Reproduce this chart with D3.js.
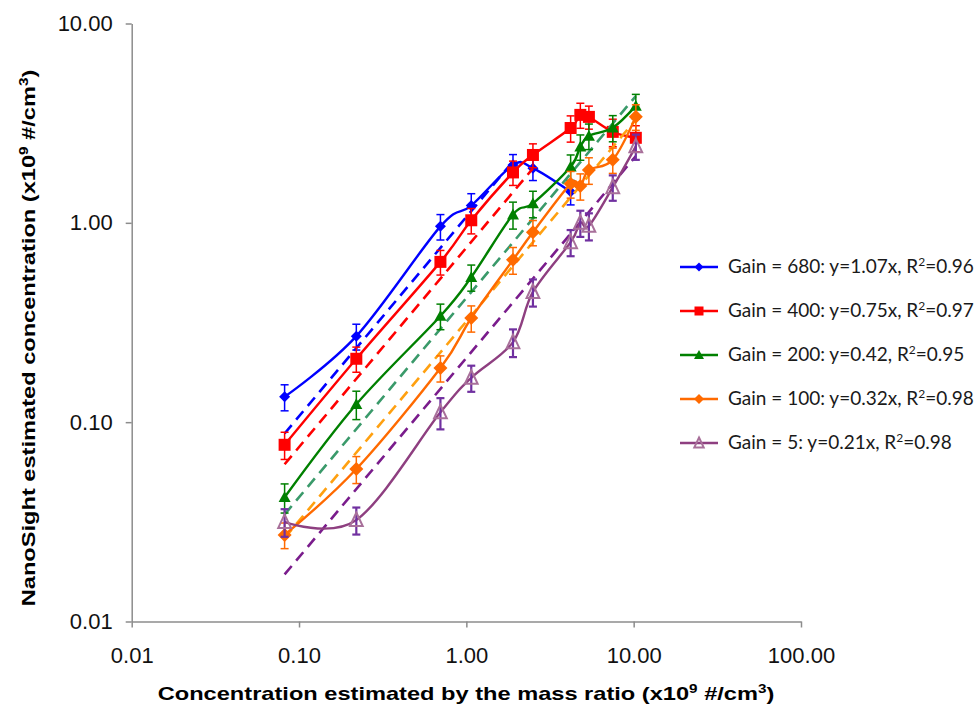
<!DOCTYPE html>
<html><head><meta charset="utf-8">
<script src="https://cdn.jsdelivr.net/npm/d3@7/dist/d3.min.js"></script>
<style>
html,body{margin:0;padding:0;background:#fff;}
svg{display:block;}
</style></head>
<body>
<svg id="chart" width="974" height="707"></svg>
<script>
// ---------- data ----------
const xValues = [0.082, 0.22, 0.70, 1.07, 1.9, 2.5, 4.2, 4.8, 5.4, 7.5, 10.3];
const seriesNames = ["Gain = 680", "Gain = 400", "Gain = 200", "Gain = 100", "Gain = 5"];
const fitLabels = ["y=1.07x, R\u00b2=0.96", "y=0.75x, R\u00b2=0.97", "y=0.42, R\u00b2=0.95", "y=0.32x, R\u00b2=0.98", "y=0.21x, R\u00b2=0.98"];
const gain680 = [0.134, 0.27, 0.96, 1.22, 1.95, 1.88, 1.43];
const gain400 = [0.077, 0.208, 0.637, 1.03, 1.79, 2.19, 2.99, 3.48, 3.40, 2.86, 2.67];
const gain200 = [0.042, 0.123, 0.341, 0.534, 1.10, 1.25, 1.91, 2.41, 2.73, 3.0, 3.86];
const gain100 = [0.0272, 0.0582, 0.187, 0.333, 0.652, 0.897, 1.57, 1.53, 1.84, 2.07, 3.41];
const gain5   = [0.0316, 0.0323, 0.112, 0.167, 0.252, 0.45, 0.80, 1.0, 0.966, 1.51, 2.42];
const err680 = [0.02, 0.04, 0.14, 0.18, 0.25, 0.25, 0.2];
const err400 = [0.012, 0.03, 0.09, 0.15, 0.25, 0.3, 0.45, 0.5, 0.45, 0.45, 0.4];
const err200 = [0.007, 0.02, 0.05, 0.08, 0.17, 0.19, 0.28, 0.35, 0.4, 0.45, 0.55];
const err100 = [0.004, 0.009, 0.028, 0.05, 0.1, 0.13, 0.24, 0.23, 0.28, 0.3, 0.5];
const err5   = [0.005, 0.005, 0.02, 0.025, 0.04, 0.07, 0.12, 0.15, 0.15, 0.22, 0.35];
const fitSlopes = [1.07, 0.75, 0.42, 0.32, 0.21];
const fitXStart = [0.082, 0.082, 0.082, 0.082, 0.082];
const fitXEnd = [1.9, 2.5, 10.3, 10.3, 10.3];
const xTicks = [0.01, 0.1, 1, 10, 100];
const yTicks = [0.01, 0.1, 1, 10];

// ---------- styles ----------
const lineColors = ["#0000ff", "#ff0000", "#008000", "#ff6a00", "#8e3f80"];
const dashColors = ["#0000ff", "#ff0000", "#3a9a6a", "#ffa010", "#7a1c8c"];
const errColors  = ["#0000ff", "#ff0000", "#008000", "#ff6a00", "#7030a0"];
const markerTypes = ["diamond", "square", "triangle", "diamond", "triangleOpen"];
const markerSizes = [11, 12, 12, 14, 15];

const yData = [gain680, gain400, gain200, gain100, gain5];
const eData = [err680, err400, err200, err100, err5];

const svg = d3.select("#chart");
const x = d3.scaleLog().domain([0.01, 100]).range([131.7, 801]);
const y = d3.scaleLog().domain([0.01, 10]).range([621.5, 23.5]);
const fmt = d3.format(".2f");
const axisColor = "#8c8c8c";

// axes
const gx = svg.append("g").attr("transform", `translate(0,${y(0.01)})`)
  .call(d3.axisBottom(x).tickValues(xTicks).tickFormat(fmt).tickSize(6).tickSizeOuter(0).tickPadding(20));
const gy = svg.append("g").attr("transform", `translate(${x(0.01)},0)`)
  .call(d3.axisLeft(y).tickValues(yTicks).tickFormat(fmt).tickSize(6).tickSizeOuter(0).tickPadding(13));
[gx, gy].forEach(g => {
  g.select(".domain").attr("stroke", axisColor).attr("stroke-width", 1.5);
  g.selectAll(".tick line").attr("stroke", axisColor).attr("stroke-width", 1.5);
  g.selectAll(".tick text").attr("fill", "#111").style("font-family", "'Liberation Sans', Arial, sans-serif").style("font-size", "22px");
});

// marker drawing
function drawMarker(g, type, cx, cy, s, color) {
  const h = s / 2;
  if (type === "diamond") {
    g.append("path").attr("d", `M${cx},${cy - h}L${cx + h},${cy}L${cx},${cy + h}L${cx - h},${cy}Z`).attr("fill", color);
  } else if (type === "square") {
    g.append("rect").attr("x", cx - h).attr("y", cy - h).attr("width", s).attr("height", s).attr("fill", color);
  } else if (type === "triangle") {
    g.append("path").attr("d", `M${cx},${cy - h}L${cx + h},${cy + h * 0.8}L${cx - h},${cy + h * 0.8}Z`).attr("fill", color);
  } else {
    g.append("path").attr("d", `M${cx},${cy - h}L${cx + h * 0.85},${cy + h * 0.8}L${cx - h * 0.85},${cy + h * 0.8}Z`)
      .attr("fill", "none").attr("stroke", "#a8709a").attr("stroke-width", 2);
  }
}

const line = d3.line().x(d => x(d[0])).y(d => y(d[1])).curve(d3.curveCardinal.tension(0));
const plot = svg.append("g");

yData.forEach((vals, i) => {
  const g = plot.append("g");
  const pts = vals.map((v, j) => [xValues[j], v, eData[i][j]]);
  // trendline
  const fx = [fitXStart[i], fitXEnd[i]];
  g.append("line")
    .attr("x1", x(fx[0])).attr("y1", y(fitSlopes[i] * fx[0]))
    .attr("x2", x(fx[1])).attr("y2", y(fitSlopes[i] * fx[1]))
    .attr("stroke", dashColors[i]).attr("stroke-width", 2.6)
    .attr("stroke-dasharray", "11,7");
  // smoothed line
  g.append("path").datum(pts).attr("d", line)
    .attr("fill", "none").attr("stroke", lineColors[i]).attr("stroke-width", 2.4);
  // error bars
  pts.forEach(p => {
    const xc = x(p[0]), y1 = y(p[1] + p[2]), y2 = y(p[1] - p[2]);
    const eg = g.append("g").attr("stroke", errColors[i]).attr("stroke-width", i === 4 ? 2.2 : 1.5);
    eg.append("line").attr("x1", xc).attr("x2", xc).attr("y1", y1).attr("y2", y2);
    eg.append("line").attr("x1", xc - 4).attr("x2", xc + 4).attr("y1", y1).attr("y2", y1);
    eg.append("line").attr("x1", xc - 4).attr("x2", xc + 4).attr("y1", y2).attr("y2", y2);
  });
  // markers
  pts.forEach(p => drawMarker(g, markerTypes[i], x(p[0]), y(p[1]), markerSizes[i], lineColors[i]));
});

// legend
const legend = svg.append("g");
seriesNames.forEach((name, i) => {
  const ly = 267 + i * 44;
  const lg = legend.append("g");
  lg.append("line").attr("x1", 680).attr("x2", 718).attr("y1", ly).attr("y2", ly)
    .attr("stroke", lineColors[i]).attr("stroke-width", 2.4);
  drawMarker(lg, markerTypes[i], 699, ly, [9, 9, 10, 10, 11][i], lineColors[i]);
  const t = lg.append("text").attr("x", 728).attr("y", ly + 6)
    .style("font-family", "Lato, 'Open Sans', sans-serif").style("font-size", "19px").attr("fill", "#1a1a1a");
  const parts = (name + ": " + fitLabels[i]).split("\u00b2");
  t.append("tspan").text(parts[0]);
  t.append("tspan").attr("dy", -7).style("font-size", "12px").text("2");
  t.append("tspan").attr("dy", 7).text(parts[1]);
});

// axis titles (horizontally widened like the reference lettering)
const titleFont = "'Liberation Sans', Arial, sans-serif";
const xt = svg.append("text").attr("transform", "translate(466,700) scale(1.27,1)").attr("text-anchor", "middle")
  .style("font-family", titleFont).style("font-weight", "bold").style("font-size", "18.6px").attr("fill", "#000");
xt.append("tspan").text("Concentration estimated by the mass ratio (x10");
xt.append("tspan").attr("dy", -7).style("font-size", "12px").text("9");
xt.append("tspan").attr("dy", 7).text(" #/cm");
xt.append("tspan").attr("dy", -7).style("font-size", "12px").text("3");
xt.append("tspan").attr("dy", 7).text(")");

const yt = svg.append("text").attr("transform", "translate(35,338) rotate(-90) scale(1.27,1)").attr("text-anchor", "middle")
  .style("font-family", titleFont).style("font-weight", "bold").style("font-size", "18.6px").attr("fill", "#000");
yt.append("tspan").text("NanoSight estimated concentration (x10");
yt.append("tspan").attr("dy", -7).style("font-size", "12px").text("9");
yt.append("tspan").attr("dy", 7).text(" #/cm");
yt.append("tspan").attr("dy", -7).style("font-size", "12px").text("3");
yt.append("tspan").attr("dy", 7).text(")");
</script>
</body></html>
